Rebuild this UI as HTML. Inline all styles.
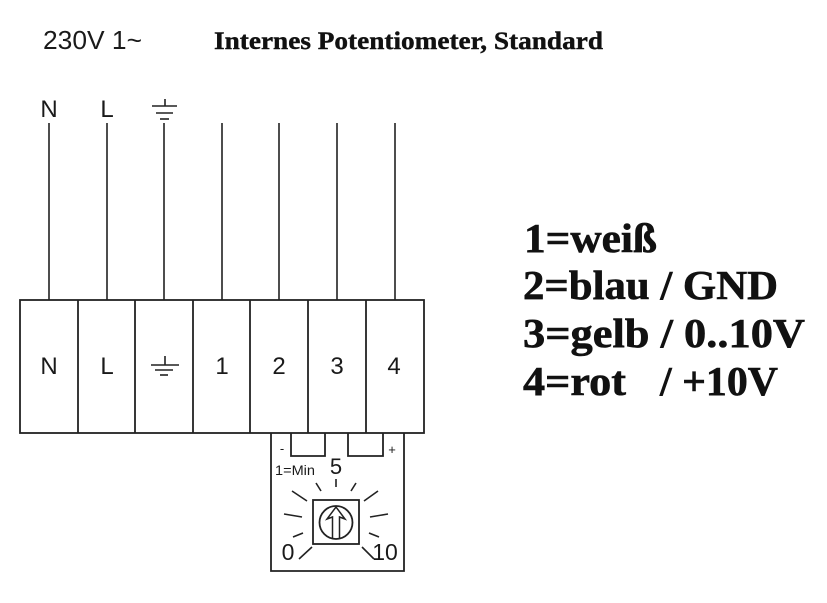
<!DOCTYPE html>
<html>
<head>
<meta charset="utf-8">
<style>
  html, body { margin: 0; padding: 0; background: #fff; }
  svg { display: block; }
  .ar { font-family: "Liberation Sans", Arial, sans-serif; fill: #1a1a1a; }
  .tm { font-family: "Liberation Serif", "Times New Roman", serif; font-weight: bold; fill: #111; stroke: #111; stroke-width: 0.6; }
</style>
</head>
<body>
<svg width="827" height="603" viewBox="0 0 827 603" xmlns="http://www.w3.org/2000/svg">
  <rect x="0" y="0" width="827" height="603" fill="#fff"/>

  <!-- Header -->
  <text class="ar" x="43" y="49" font-size="26" textLength="99" lengthAdjust="spacingAndGlyphs">230V 1~</text>
  <text class="tm" x="214" y="49" font-size="25" textLength="389" lengthAdjust="spacingAndGlyphs" style="stroke-width:0.4">Internes Potentiometer, Standard</text>

  <!-- Top labels -->
  <text class="ar" x="49" y="117" font-size="24" text-anchor="middle">N</text>
  <text class="ar" x="107" y="117" font-size="24" text-anchor="middle">L</text>
  <g stroke="#222" stroke-width="1.6" fill="none">
    <line x1="165" y1="99" x2="165" y2="106"/>
    <line x1="152" y1="106" x2="177" y2="106"/>
    <line x1="156" y1="113" x2="173" y2="113"/>
    <line x1="160" y1="119" x2="169" y2="119"/>
  </g>

  <!-- Wires -->
  <g stroke="#222" stroke-width="1.6">
    <line x1="49" y1="123" x2="49" y2="300"/>
    <line x1="107" y1="123" x2="107" y2="300"/>
    <line x1="164" y1="123" x2="164" y2="300"/>
    <line x1="222" y1="123" x2="222" y2="300"/>
    <line x1="279" y1="123" x2="279" y2="300"/>
    <line x1="337" y1="123" x2="337" y2="300"/>
    <line x1="395" y1="123" x2="395" y2="300"/>
  </g>

  <!-- Terminal block -->
  <g stroke="#222" stroke-width="1.8" fill="none">
    <rect x="20" y="300" width="404" height="133"/>
    <line x1="78" y1="300" x2="78" y2="433"/>
    <line x1="135" y1="300" x2="135" y2="433"/>
    <line x1="193" y1="300" x2="193" y2="433"/>
    <line x1="250" y1="300" x2="250" y2="433"/>
    <line x1="308" y1="300" x2="308" y2="433"/>
    <line x1="366" y1="300" x2="366" y2="433"/>
  </g>
  <text class="ar" x="49" y="374" font-size="24" text-anchor="middle">N</text>
  <text class="ar" x="107" y="374" font-size="24" text-anchor="middle">L</text>
  <g stroke="#222" stroke-width="1.6" fill="none">
    <line x1="165" y1="356" x2="165" y2="365"/>
    <line x1="151" y1="365" x2="179" y2="365"/>
    <line x1="155" y1="370" x2="173" y2="370"/>
    <line x1="160" y1="375" x2="168" y2="375"/>
  </g>
  <text class="ar" x="222" y="374" font-size="24" text-anchor="middle">1</text>
  <text class="ar" x="279" y="374" font-size="24" text-anchor="middle">2</text>
  <text class="ar" x="337" y="374" font-size="24" text-anchor="middle">3</text>
  <text class="ar" x="394" y="374" font-size="24" text-anchor="middle">4</text>

  <!-- Potentiometer box -->
  <g stroke="#222" stroke-width="1.8" fill="none">
    <polyline points="271,433 271,571 404,571 404,433"/>
    <polyline points="291,433 291,456 325,456 325,433"/>
    <polyline points="348,433 348,456 383,456 383,433"/>
  </g>
  <text class="ar" x="282" y="453" font-size="13" text-anchor="middle">-</text>
  <text class="ar" x="392" y="454" font-size="13" text-anchor="middle">+</text>
  <text class="ar" x="275" y="475" font-size="14" textLength="40" lengthAdjust="spacingAndGlyphs">1=Min</text>
  <text class="ar" x="336" y="474" font-size="22" text-anchor="middle">5</text>
  <text class="ar" x="288" y="560" font-size="23" text-anchor="middle">0</text>
  <text class="ar" x="385" y="560" font-size="23" text-anchor="middle">10</text>

  <!-- Ticks -->
  <g stroke="#222" stroke-width="1.6">
    <line x1="336" y1="479" x2="336" y2="487"/>
    <line x1="316" y1="483" x2="321" y2="491"/>
    <line x1="356" y1="483" x2="351" y2="491"/>
    <line x1="292" y1="491" x2="307" y2="501"/>
    <line x1="378" y1="491" x2="364" y2="501"/>
    <line x1="284" y1="514" x2="302" y2="517"/>
    <line x1="370" y1="517" x2="388" y2="514"/>
    <line x1="293" y1="537" x2="303" y2="533"/>
    <line x1="369" y1="533" x2="379" y2="537"/>
    <line x1="299" y1="559" x2="312" y2="547"/>
    <line x1="362" y1="547" x2="374" y2="559"/>
  </g>

  <!-- Knob -->
  <g stroke="#222" stroke-width="1.8" fill="none">
    <rect x="313" y="500" width="46" height="44"/>
    <circle cx="336" cy="522.5" r="16.5"/>
    <path d="M332.5 539 V517 L327 519 L336 507 L345 519 L339.5 517 V539" stroke-width="1.5" stroke-linejoin="miter"/>
  </g>

  <!-- Legend -->
  <text class="tm" x="524" y="252" font-size="41" textLength="133" lengthAdjust="spacingAndGlyphs">1=weiß</text>
  <text class="tm" x="523" y="299" font-size="41" textLength="255" lengthAdjust="spacingAndGlyphs">2=blau / GND</text>
  <text class="tm" x="523" y="347" font-size="41" textLength="282" lengthAdjust="spacingAndGlyphs">3=gelb / 0..10V</text>
  <text class="tm" x="523" y="395" font-size="41" textLength="103" lengthAdjust="spacingAndGlyphs">4=rot</text>
  <text class="tm" x="660" y="395" font-size="41" textLength="118" lengthAdjust="spacingAndGlyphs">/ +10V</text>
</svg>
</body>
</html>
